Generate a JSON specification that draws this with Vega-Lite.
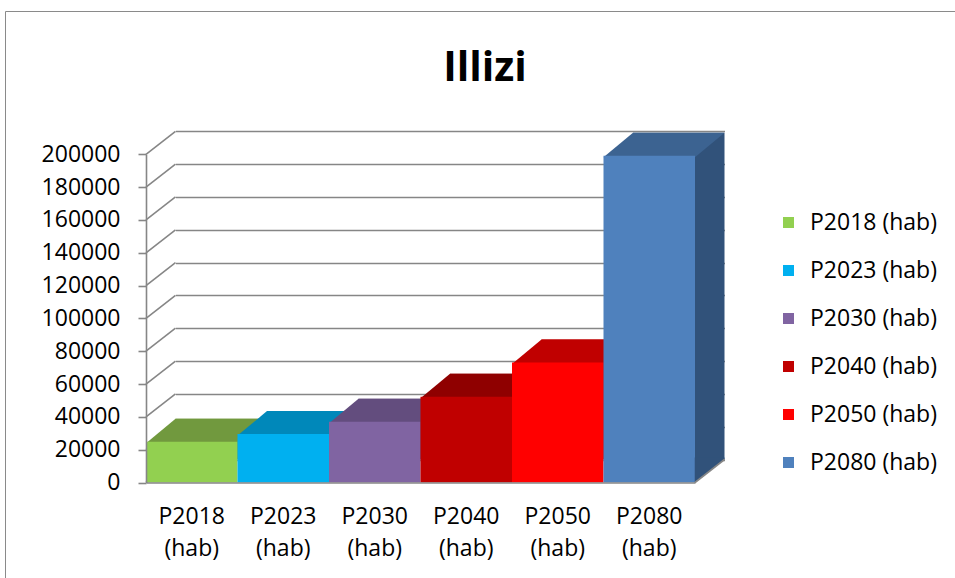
{
  "$schema": "https://vega.github.io/schema/vega-lite/v6.json",
  "width": 960,
  "height": 580,
  "autosize": "none",
  "padding": {"left": 5, "top": 11, "right": 0, "bottom": 0},
  "config": {
    "view": {"stroke": "#8a8a8a", "strokeWidth": 1},
    "font": "Open Sans"
  },
  "title": {
    "text": "Illizi",
    "font": "Open Sans",
    "fontSize": 41,
    "fontWeight": "bold",
    "color": "#000000",
    "anchor": "middle",
    "offset": -79
  },
  "data": {
    "values": [
      {"cat": "P2018 (hab)", "val": 24900},
      {"cat": "P2023 (hab)", "val": 29500},
      {"cat": "P2030 (hab)", "val": 37000},
      {"cat": "P2040 (hab)", "val": 52300},
      {"cat": "P2050 (hab)", "val": 73200},
      {"cat": "P2080 (hab)", "val": 199100}
    ]
  },
  "layer": [
    {
      "layer": [
        {
          "mark": {"type": "bar", "strokeWidth": 0},
          "encoding": {
            "x": {
              "field": "cat", "type": "nominal",
              "scale": {"domain": ["P2018 (hab)", "P2023 (hab)", "P2030 (hab)", "P2040 (hab)", "P2050 (hab)", "P2080 (hab)"], "range": [170.5, 719.5], "paddingInner": 0, "paddingOuter": 0},
              "axis": null
            },
            "y": {
              "field": "val", "type": "quantitative",
              "scale": {"domain": [0, 200000], "range": [448.5, 120.3], "nice": false, "zero": true},
              "axis": {
                "orient": "left",
                "grid": true, "labels": false, "ticks": false, "domain": false, "title": null,
                "tickCount": 10, "gridColor": "#868686", "gridWidth": 1.6, "gridOpacity": 1
              }
            },
            "fill": {
              "field": "cat", "type": "nominal",
              "scale": {"domain": ["P2018 (hab)", "P2023 (hab)", "P2030 (hab)", "P2040 (hab)", "P2050 (hab)", "P2080 (hab)"], "range": ["#71993E", "#0088BA", "#634D7E", "#8F0000", "#C00000", "#31527A"]},
              "legend": null
            }
          }
        }
      ]
    },
    {
      "encoding": {
        "x": {
          "field": "cat", "type": "nominal",
          "scale": {"domain": ["P2018 (hab)", "P2023 (hab)", "P2030 (hab)", "P2040 (hab)", "P2050 (hab)", "P2080 (hab)"], "range": [141, 690], "paddingInner": 0, "paddingOuter": 0},
          "axis": {
            "title": null, "orient": "bottom", "offset": -108.5,
            "labelExpr": "split(datum.label, ' ')",
            "labelAngle": 0, "labelFontSize": 23, "labelFont": "Open Sans", "labelColor": "#000000",
            "labelLineHeight": 32, "labelPadding": 23,
            "ticks": false, "tickSize": 0,
            "domainColor": "#868686", "domainWidth": 1.6, "zindex": 1
          }
        },
        "y": {
          "field": "val", "type": "quantitative",
          "scale": {"domain": [0, 200000], "range": [471.5, 143.3], "nice": false, "zero": true},
          "axis": {
            "title": null, "orient": "left", "offset": -141, "grid": false, "tickCount": 10, "format": "d",
            "labelFontSize": 23, "labelFont": "Open Sans", "labelColor": "#000000", "labelPadding": 18,
            "tickSize": 8, "tickColor": "#868686", "tickWidth": 1.6,
            "domainColor": "#868686", "domainWidth": 1.6, "zindex": 1
          }
        }
      },
      "layer": [
        {
          "data": {"values": [{"t": 0}, {"t": 20000}, {"t": 40000}, {"t": 60000}, {"t": 80000}, {"t": 100000}, {"t": 120000}, {"t": 140000}, {"t": 160000}, {"t": 180000}, {"t": 200000}]},
          "mark": {"type": "point", "shape": "M-0.915,0L-0.325,-0.46", "size": 10000, "filled": false, "color": "#868686", "strokeWidth": 1.6, "opacity": 1},
          "encoding": {
            "x": {"datum": "P2018 (hab)"},
            "y": {"field": "t", "type": "quantitative"}
          }
        },
        {
          "mark": {"type": "point", "shape": "M-0.915,0.03L0.915,0.03L1.505,-0.46L-0.325,-0.46Z", "size": 10000, "filled": true, "strokeWidth": 0, "opacity": 1},
          "encoding": {
            "fill": {
              "field": "cat", "type": "nominal",
              "scale": {"domain": ["P2018 (hab)", "P2023 (hab)", "P2030 (hab)", "P2040 (hab)", "P2050 (hab)", "P2080 (hab)"], "range": ["#71993E", "#0088BA", "#634D7E", "#8F0000", "#C00000", "#3C6391"]},
              "legend": null
            }
          }
        },
        {
          "mark": {"type": "bar", "strokeWidth": 0},
          "encoding": {
            "color": {
              "field": "cat", "type": "nominal",
              "scale": {"domain": ["P2018 (hab)", "P2023 (hab)", "P2030 (hab)", "P2040 (hab)", "P2050 (hab)", "P2080 (hab)"], "range": ["#92D050", "#00B0F0", "#8064A2", "#C00000", "#FF0000", "#4F81BD"]},
              "legend": {
                "title": null, "orient": "none", "legendX": 772, "legendY": 200,
                "symbolType": "square", "symbolSize": 121, "symbolStrokeWidth": 0,
                "labelFont": "Open Sans", "labelFontSize": 23, "labelColor": "#000000",
                "labelOffset": 10, "rowPadding": 24, "labelLimit": 300
              }
            }
          }
        },
        {
          "transform": [{"filter": "datum.cat == 'P2080 (hab)'"}],
          "mark": {"type": "point", "shape": "M0.91,0.01L0.91,-0.5L1.505,-0.5L1.505,-0.46Z", "size": 10000, "filled": true, "color": "#31527A", "strokeWidth": 0, "opacity": 1},
          "encoding": {
            "y": {"datum": 0}
          }
        },
        {
          "transform": [{"filter": "datum.cat == 'P2080 (hab)'"}],
          "mark": {"type": "point", "shape": "M0.915,0L1.505,-0.46", "size": 10000, "filled": false, "color": "#868686", "strokeWidth": 1.6, "opacity": 1},
          "encoding": {
            "y": {"datum": 0}
          }
        }
      ]
    }
  ],
  "resolve": {
    "scale": {"x": "independent", "y": "independent", "fill": "independent"},
    "axis": {"x": "independent", "y": "independent"}
  }
}
